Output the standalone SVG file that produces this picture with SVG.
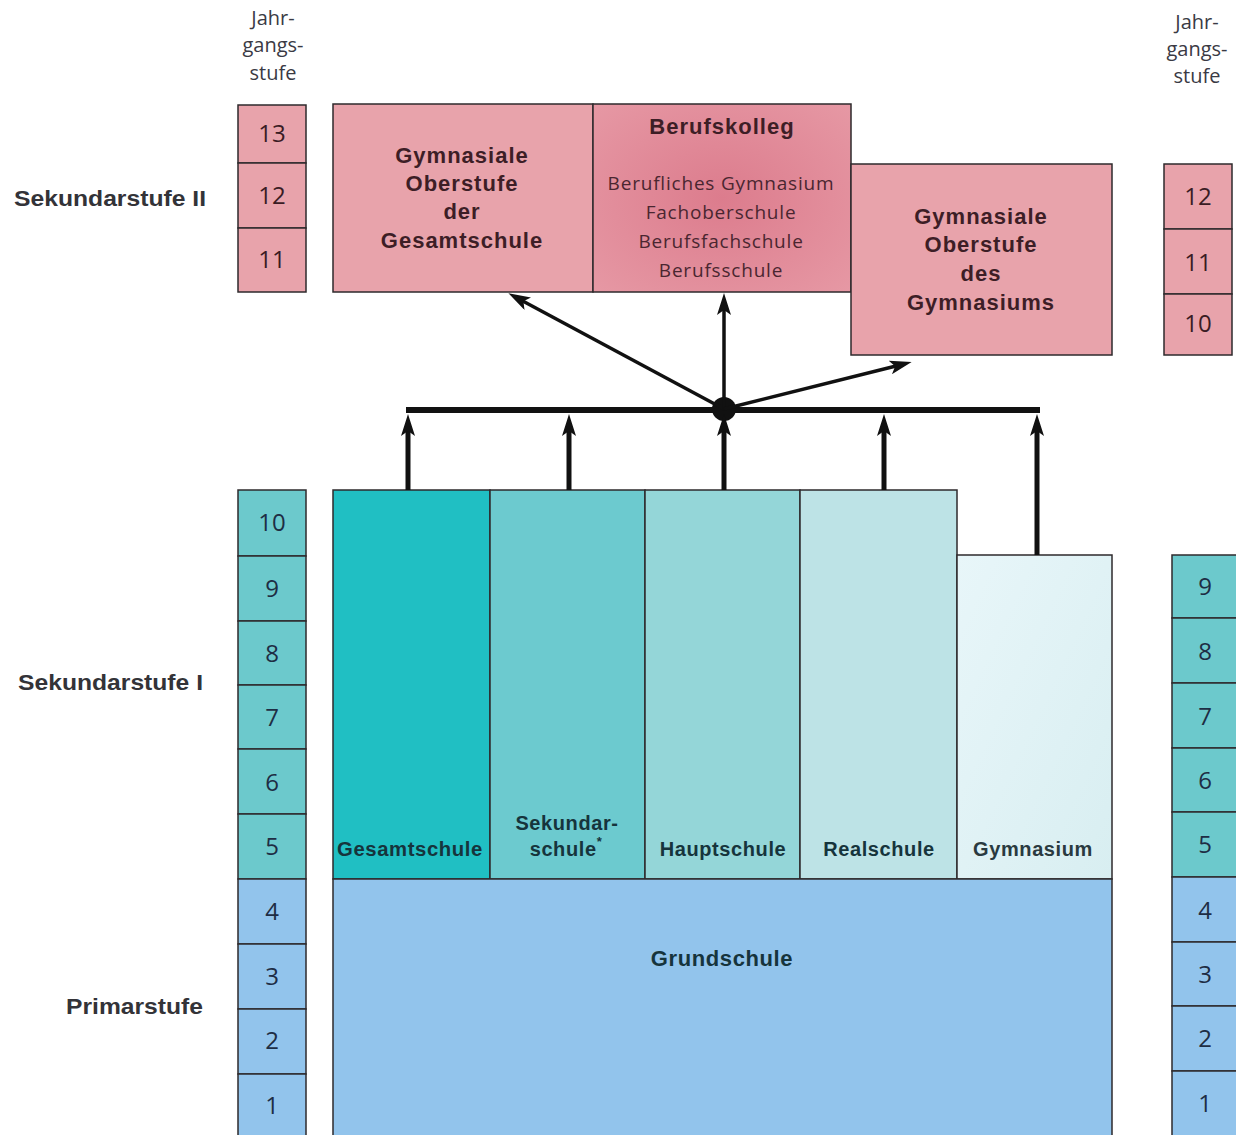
<svg xmlns="http://www.w3.org/2000/svg" width="1236" height="1135" viewBox="0 0 1236 1135">
<style>
.box{stroke:#2e2a2c;stroke-width:1.5}
.pink{fill:#e8a3ab}
.teal{fill:#6cc9cc}
.blue{fill:#92c4ec}
.num{font-family:"Open Sans","Liberation Sans",sans-serif;font-size:24px;text-anchor:middle;dominant-baseline:central}
.nb{fill:#1e2d44}
.np{fill:#3a1c24}
.head{font-family:"Open Sans","Liberation Sans",sans-serif;font-size:20px;fill:#3a3a44;text-anchor:middle}
.stage{font-family:"Liberation Sans",Arial,sans-serif;font-size:22px;font-weight:bold;fill:#333338;text-anchor:end;dominant-baseline:central}
.bt{font-family:"Liberation Sans",Arial,sans-serif;font-weight:bold;font-size:22px;letter-spacing:1px;text-anchor:middle;dominant-baseline:central}
.bp{fill:#3d1e26}
.bk{fill:#16343c}
.lt{font-family:"Open Sans","Liberation Sans",sans-serif;font-size:19px;letter-spacing:0.8px;fill:#4a2630;text-anchor:middle;dominant-baseline:central}
.col{font-family:"Liberation Sans",Arial,sans-serif;font-weight:bold;font-size:20px;letter-spacing:0.6px;text-anchor:middle;dominant-baseline:central}
.thick{stroke:#111;stroke-width:5;fill:none}
.thin{stroke:#111;stroke-width:3.5;fill:none}
</style>
<defs>
<marker id="ah" markerUnits="userSpaceOnUse" markerWidth="24" markerHeight="14" refX="10" refY="7" orient="auto" viewBox="0 0 24 14">
<path d="M0,0 L22,7 L0,14 L5,7 z" fill="#111"/>
</marker>
<radialGradient id="bkg" cx="0.5" cy="0.5" r="0.7">
<stop offset="0" stop-color="#dc7c8d"/>
<stop offset="1" stop-color="#e698a4"/>
</radialGradient>
<linearGradient id="gymg" x1="0" y1="0" x2="1" y2="1">
<stop offset="0" stop-color="#e8f6f9"/>
<stop offset="1" stop-color="#d8eef1"/>
</linearGradient>
</defs>

<g id="headers">
<text class="head" x="273" y="25">Jahr-</text>
<text class="head" x="273" y="52">gangs-</text>
<text class="head" x="273" y="80">stufe</text>
<text class="head" x="1197" y="29">Jahr-</text>
<text class="head" x="1197" y="56">gangs-</text>
<text class="head" x="1197" y="83">stufe</text>
</g>

<g id="stage-labels">
<text class="stage" x="206" y="198" textLength="192" lengthAdjust="spacingAndGlyphs">Sekundarstufe II</text>
<text class="stage" x="203" y="682" textLength="185" lengthAdjust="spacingAndGlyphs">Sekundarstufe I</text>
<text class="stage" x="203" y="1006" textLength="137" lengthAdjust="spacingAndGlyphs">Primarstufe</text>
</g>

<g id="grades-left">
<rect class="box pink" x="238" y="105" width="68" height="58"/>
<rect class="box pink" x="238" y="163" width="68" height="65"/>
<rect class="box pink" x="238" y="228" width="68" height="64"/>
<text class="num np" x="272" y="132">13</text>
<text class="num np" x="272" y="194">12</text>
<text class="num np" x="272" y="258">11</text>
<rect class="box teal" x="238" y="490" width="68" height="66"/>
<rect class="box teal" x="238" y="556" width="68" height="65"/>
<rect class="box teal" x="238" y="621" width="68" height="64"/>
<rect class="box teal" x="238" y="685" width="68" height="64"/>
<rect class="box teal" x="238" y="749" width="68" height="65"/>
<rect class="box teal" x="238" y="814" width="68" height="65"/>
<rect class="box blue" x="238" y="879" width="68" height="65"/>
<rect class="box blue" x="238" y="944" width="68" height="65"/>
<rect class="box blue" x="238" y="1009" width="68" height="65"/>
<rect class="box blue" x="238" y="1074" width="68" height="70"/>
<text class="num nb" x="272" y="521">10</text>
<text class="num nb" x="272" y="587">9</text>
<text class="num nb" x="272" y="652">8</text>
<text class="num nb" x="272" y="716">7</text>
<text class="num nb" x="272" y="781">6</text>
<text class="num nb" x="272" y="845">5</text>
<text class="num nb" x="272" y="910">4</text>
<text class="num nb" x="272" y="975">3</text>
<text class="num nb" x="272" y="1039">2</text>
<text class="num nb" x="272" y="1104">1</text>
</g>

<g id="grades-right">
<rect class="box pink" x="1164" y="164" width="68" height="65"/>
<rect class="box pink" x="1164" y="229" width="68" height="65"/>
<rect class="box pink" x="1164" y="294" width="68" height="61"/>
<text class="num np" x="1198" y="195">12</text>
<text class="num np" x="1198" y="261">11</text>
<text class="num np" x="1198" y="322">10</text>
<rect class="box teal" x="1172" y="555" width="80" height="63"/>
<rect class="box teal" x="1172" y="618" width="80" height="65"/>
<rect class="box teal" x="1172" y="683" width="80" height="65"/>
<rect class="box teal" x="1172" y="748" width="80" height="64"/>
<rect class="box teal" x="1172" y="812" width="80" height="65"/>
<rect class="box blue" x="1172" y="877" width="80" height="65"/>
<rect class="box blue" x="1172" y="942" width="80" height="64"/>
<rect class="box blue" x="1172" y="1006" width="80" height="65"/>
<rect class="box blue" x="1172" y="1071" width="80" height="70"/>
<text class="num nb" x="1205" y="585">9</text>
<text class="num nb" x="1205" y="650">8</text>
<text class="num nb" x="1205" y="715">7</text>
<text class="num nb" x="1205" y="779">6</text>
<text class="num nb" x="1205" y="843">5</text>
<text class="num nb" x="1205" y="909">4</text>
<text class="num nb" x="1205" y="973">3</text>
<text class="num nb" x="1205" y="1037">2</text>
<text class="num nb" x="1205" y="1102">1</text>
</g>

<g id="oberstufe-gesamtschule">
<rect class="box pink" x="333" y="104" width="260" height="188"/>
<text class="bt bp" x="462" y="155">Gymnasiale</text>
<text class="bt bp" x="462" y="183">Oberstufe</text>
<text class="bt bp" x="462" y="211">der</text>
<text class="bt bp" x="462" y="240">Gesamtschule</text>
</g>

<g id="berufskolleg">
<rect class="box" fill="url(#bkg)" x="593" y="104" width="258" height="188"/>
<text class="bt bp" x="722" y="126">Berufskolleg</text>
<text class="lt" x="721" y="183">Berufliches Gymnasium</text>
<text class="lt" x="721" y="212">Fachoberschule</text>
<text class="lt" x="721" y="241">Berufsfachschule</text>
<text class="lt" x="721" y="270">Berufsschule</text>
</g>

<g id="oberstufe-gymnasium">
<rect class="box pink" x="851" y="164" width="261" height="191"/>
<text class="bt bp" x="981" y="216">Gymnasiale</text>
<text class="bt bp" x="981" y="244">Oberstufe</text>
<text class="bt bp" x="981" y="273">des</text>
<text class="bt bp" x="981" y="302">Gymnasiums</text>
</g>

<g id="gesamtschule">
<rect class="box" fill="#20bfc3" x="333" y="490" width="157" height="389"/>
<text class="col bk" x="410" y="849" textLength="146" lengthAdjust="spacingAndGlyphs">Gesamtschule</text>
</g>
<g id="sekundarschule">
<rect class="box" fill="#6ccacf" x="490" y="490" width="155" height="389"/>
<text class="col bk" x="567" y="823">Sekundar-</text>
<text class="col bk" x="566" y="849">schule<tspan font-size="13" dy="-8">*</tspan></text>
</g>
<g id="hauptschule">
<rect class="box" fill="#94d6d8" x="645" y="490" width="155" height="389"/>
<text class="col bk" x="723" y="849">Hauptschule</text>
</g>
<g id="realschule">
<rect class="box" fill="#bde3e6" x="800" y="490" width="157" height="389"/>
<text class="col bk" x="879" y="849">Realschule</text>
</g>
<g id="gymnasium">
<rect class="box" fill="url(#gymg)" x="957" y="555" width="155" height="324"/>
<text class="col" fill="#2a3a40" x="1033" y="849">Gymnasium</text>
</g>
<g id="grundschule">
<rect class="box" fill="#92c4ec" x="333" y="879" width="779" height="265"/>
<text class="col bk" x="722" y="958" style="font-size:22px">Grundschule</text>
</g>

<g id="connectors">
<line x1="406" y1="410" x2="1040" y2="410" stroke="#111" stroke-width="6"/>
<circle cx="724" cy="409" r="12" fill="#111"/>
<line class="thick" x1="408" y1="490" x2="408" y2="426" marker-end="url(#ah)"/>
<line class="thick" x1="569" y1="490" x2="569" y2="426" marker-end="url(#ah)"/>
<line class="thick" x1="724" y1="490" x2="724" y2="426" marker-end="url(#ah)"/>
<line class="thick" x1="884" y1="490" x2="884" y2="426" marker-end="url(#ah)"/>
<line class="thick" x1="1037" y1="555" x2="1037" y2="426" marker-end="url(#ah)"/>
<line class="thin" x1="724" y1="409" x2="519" y2="299" marker-end="url(#ah)"/>
<line class="thin" x1="724" y1="409" x2="724" y2="305" marker-end="url(#ah)"/>
<line class="thin" x1="724" y1="409" x2="900" y2="365" marker-end="url(#ah)"/>
</g>
</svg>
